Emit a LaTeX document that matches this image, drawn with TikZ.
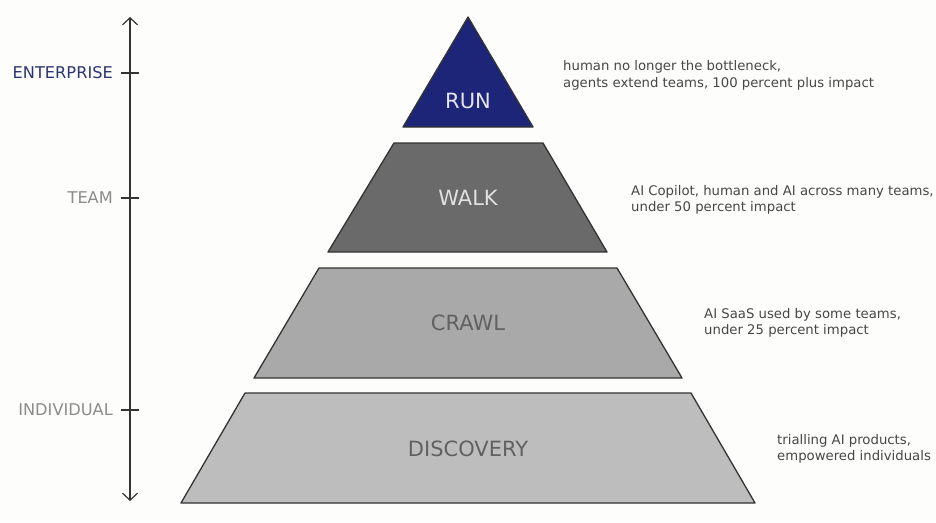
\documentclass[tikz,border=0pt]{standalone}
\usepackage{fontspec}
\setmainfont{DejaVu Sans}
\usetikzlibrary{arrows.meta}
\definecolor{bg}{HTML}{FDFDFB}
\definecolor{navy}{HTML}{1C2578}
\definecolor{navytext}{HTML}{2B3572}
\definecolor{walkfill}{HTML}{6A6A6A}
\definecolor{crawlfill}{HTML}{A9A9A9}
\definecolor{discfill}{HTML}{BDBDBD}
\definecolor{edge}{HTML}{333333}
\definecolor{axisgray}{HTML}{8C8C8C}
\definecolor{desc}{HTML}{474747}
\tikzset{
  layer/.style={draw=edge, line width=1.3pt, line join=round},
  axislabel/.style={anchor=east, inner sep=0pt, font=\fontsize{16.2}{18}\selectfont},
  levelname/.style={inner sep=0pt, font=\fontsize{21}{24}\selectfont},
  desctext/.style={anchor=west, align=left, inner sep=0pt, text=desc, font=\fontsize{13.25}{16.5}\selectfont},
  axisline/.style={draw=edge, line width=1.2pt},
}
\begin{document}
\begin{tikzpicture}[x=1pt,y=-1pt]
\fill[bg] (0,0) rectangle (936,522);
\useasboundingbox (0,0) rectangle (936,522);
% axis
\coordinate (atop) at (130,17);
\coordinate (abot) at (130,501);
\draw[axisline, {Straight Barb[length=7pt,width=15pt]}-{Straight Barb[length=7pt,width=15pt]}] (atop) -- (abot);
\coordinate (t1a) at (121,73); \coordinate (t1b) at (139,73);
\coordinate (t2a) at (121,198); \coordinate (t2b) at (139,198);
\coordinate (t3a) at (121,410); \coordinate (t3b) at (139,410);
\draw[axisline] (t1a) -- (t1b);
\draw[axisline] (t2a) -- (t2b);
\draw[axisline] (t3a) -- (t3b);
\node[axislabel, text=navytext] (ent) at (113,73) {ENTERPRISE};
\node[axislabel, text=axisgray] (team) at (113,198) {TEAM};
\node[axislabel, text=axisgray] (ind) at (113,410) {INDIVIDUAL};
% layers
\path[layer, fill=navy] (468,17) -- (533,127) -- (403,127) -- cycle;
\path[layer, fill=walkfill] (394,143) -- (543,143) -- (607,252) -- (328,252) -- cycle;
\path[layer, fill=crawlfill] (319,268) -- (617,268) -- (682,378) -- (254,378) -- cycle;
\path[layer, fill=discfill] (245,393) -- (691,393) -- (755,503) -- (181,503) -- cycle;
\node[levelname, text=white!88!navy] (run) at (468,101) {RUN};
\node[levelname, text=white!88!black] (walk) at (468,198) {WALK};
\node[levelname, text=black!62] (crawl) at (468,323) {CRAWL};
\node[levelname, text=black!62] (disc) at (468,449) {DISCOVERY};
% descriptions
\node[desctext] (d1) at (563,75.5) {human no longer the bottleneck,\\agents extend teams, 100 percent plus impact};
\node[desctext] (d2) at (631,200) {AI Copilot, human and AI across many teams,\\under 50 percent impact};
\node[desctext] (d3) at (704,323) {AI SaaS used by some teams,\\under 25 percent impact};
\node[desctext] (d4) at (777,449) {trialling AI products,\\empowered individuals};
\end{tikzpicture}
\end{document}
